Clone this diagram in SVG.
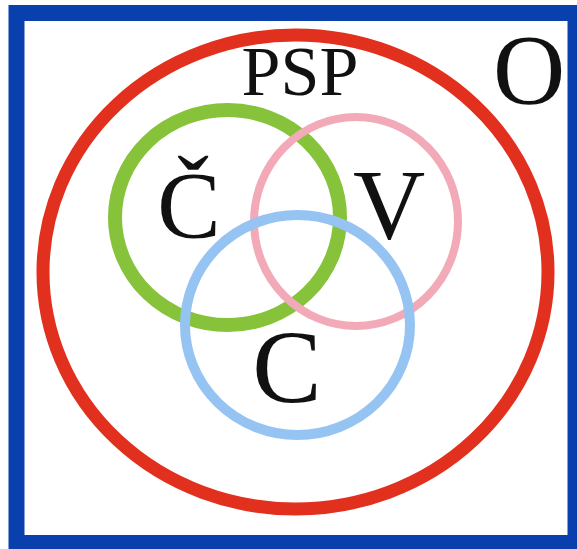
<svg xmlns="http://www.w3.org/2000/svg" width="577" height="549" viewBox="0 0 577 549">
<style>
.ring{fill:none}
.lbl{font-family:"Liberation Serif","Times New Roman",serif;fill:#111;text-anchor:middle}
</style>
<rect x="0" y="0" width="577" height="549" fill="#ffffff"/>
<g id="frame"><rect x="16.5" y="13" width="559" height="530" fill="none" stroke="#0a3fae" stroke-width="16"/></g>
<g id="O"><ellipse class="ring" cx="295.5" cy="272" rx="252.5" ry="237" stroke="#e2301f" stroke-width="13"/>
<text class="lbl" x="529" y="103" font-size="100">O</text></g>
<g id="PSP"><text class="lbl" x="300" y="95" font-size="70">PSP</text></g>
<g id="cv">
<ellipse class="ring" cx="227.5" cy="217.5" rx="112.5" ry="107.5" stroke="#86c23a" stroke-width="14"/>
<text class="lbl" x="189" y="238" font-size="95">Č</text></g>
<g id="v">
<ellipse class="ring" cx="356" cy="221.5" rx="102" ry="104.5" stroke="#f2aab8" stroke-width="8"/>
<text class="lbl" x="389" y="238" font-size="100">V</text></g>
<g id="c">
<ellipse class="ring" cx="297.5" cy="325" rx="112.5" ry="110" stroke="#96c4f2" stroke-width="10"/>
<text class="lbl" x="287" y="402" font-size="104">C</text></g>
<g id="connectors"/>
</svg>
